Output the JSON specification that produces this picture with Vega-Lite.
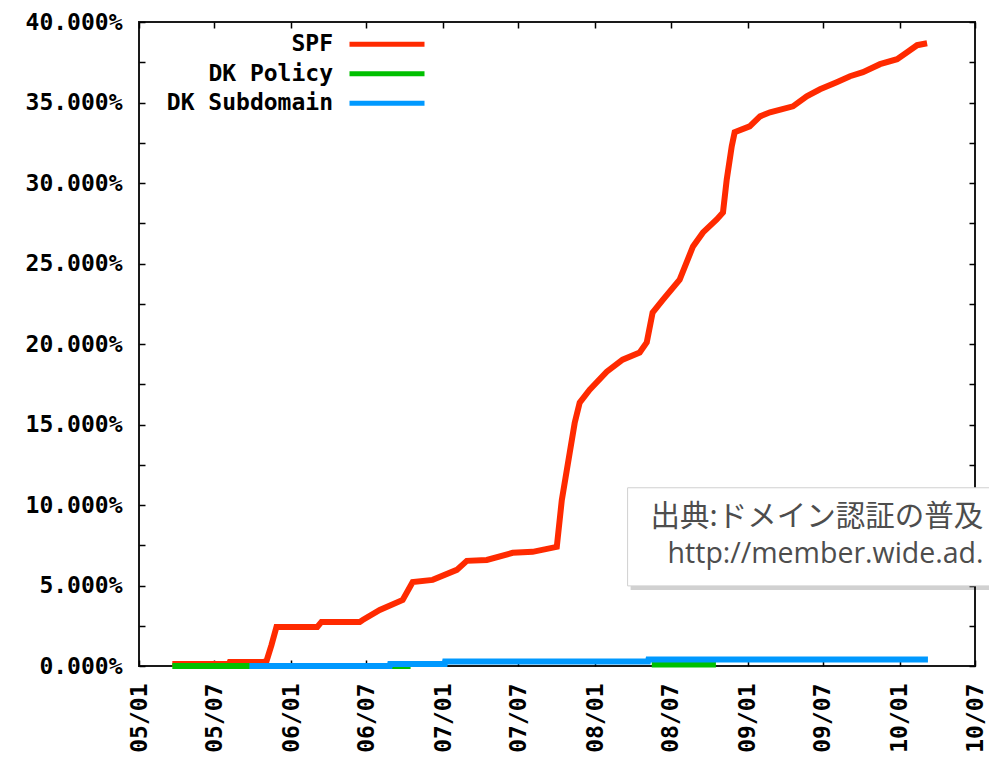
{
  "$schema": "https://vega.github.io/schema/vega-lite/v6.json",
  "width": 836,
  "height": 644,
  "autosize": {"type": "none"},
  "padding": {"left": 139, "top": 22, "right": 14, "bottom": 94},
  "background": "white",
  "config": {
    "view": {"stroke": "#1a1a1a", "strokeWidth": 2},
    "axis": {
      "grid": false,
      "domain": false,
      "tickColor": "#000",
      "tickWidth": 1.5,
      "tickSize": -6,
      "labelFont": "DejaVu Sans Mono",
      "labelFontWeight": "bold",
      "labelFontSize": 23,
      "labelColor": "#000",
      "labelPadding": 23,
      "title": null,
      "labelFlush": false,
      "labelOverlap": false,
      "labelBound": false
    }
  },
  "layer": [
    {
      "data": {
        "values": [
          {"date": "2005-03-22", "pct": 0.12, "series": "SPF", "seg": 1},
          {"date": "2005-08-05", "pct": 0.12, "series": "SPF", "seg": 1},
          {"date": "2005-08-07", "pct": 0.25, "series": "SPF", "seg": 1},
          {"date": "2005-10-27", "pct": 0.25, "series": "SPF", "seg": 1},
          {"date": "2005-11-03", "pct": 0.3, "series": "SPF", "seg": 1},
          {"date": "2005-11-15", "pct": 1.3, "series": "SPF", "seg": 1},
          {"date": "2005-11-27", "pct": 2.43, "series": "SPF", "seg": 1},
          {"date": "2006-03-05", "pct": 2.43, "series": "SPF", "seg": 1},
          {"date": "2006-03-15", "pct": 2.74, "series": "SPF", "seg": 1},
          {"date": "2006-06-15", "pct": 2.74, "series": "SPF", "seg": 1},
          {"date": "2006-06-22", "pct": 2.86, "series": "SPF", "seg": 1},
          {"date": "2006-08-02", "pct": 3.48, "series": "SPF", "seg": 1},
          {"date": "2006-09-26", "pct": 4.1, "series": "SPF", "seg": 1},
          {"date": "2006-10-20", "pct": 5.22, "series": "SPF", "seg": 1},
          {"date": "2006-12-07", "pct": 5.35, "series": "SPF", "seg": 1},
          {"date": "2007-02-03", "pct": 5.97, "series": "SPF", "seg": 1},
          {"date": "2007-02-27", "pct": 6.53, "series": "SPF", "seg": 1},
          {"date": "2007-04-16", "pct": 6.59, "series": "SPF", "seg": 1},
          {"date": "2007-06-17", "pct": 7.03, "series": "SPF", "seg": 1},
          {"date": "2007-08-04", "pct": 7.09, "series": "SPF", "seg": 1},
          {"date": "2007-10-01", "pct": 7.4, "series": "SPF", "seg": 1},
          {"date": "2007-10-13", "pct": 10.3, "series": "SPF", "seg": 1},
          {"date": "2007-11-01", "pct": 13.25, "series": "SPF", "seg": 1},
          {"date": "2007-11-13", "pct": 15.1, "series": "SPF", "seg": 1},
          {"date": "2007-11-25", "pct": 16.36, "series": "SPF", "seg": 1},
          {"date": "2007-12-19", "pct": 17.16, "series": "SPF", "seg": 1},
          {"date": "2008-01-29", "pct": 18.28, "series": "SPF", "seg": 1},
          {"date": "2008-03-07", "pct": 19.03, "series": "SPF", "seg": 1},
          {"date": "2008-04-17", "pct": 19.47, "series": "SPF", "seg": 1},
          {"date": "2008-05-04", "pct": 20.1, "series": "SPF", "seg": 1},
          {"date": "2008-05-18", "pct": 21.95, "series": "SPF", "seg": 1},
          {"date": "2008-06-12", "pct": 22.76, "series": "SPF", "seg": 1},
          {"date": "2008-07-22", "pct": 24.0, "series": "SPF", "seg": 1},
          {"date": "2008-08-23", "pct": 26.06, "series": "SPF", "seg": 1},
          {"date": "2008-09-16", "pct": 26.93, "series": "SPF", "seg": 1},
          {"date": "2008-10-19", "pct": 27.74, "series": "SPF", "seg": 1},
          {"date": "2008-11-03", "pct": 28.17, "series": "SPF", "seg": 1},
          {"date": "2008-11-12", "pct": 30.22, "series": "SPF", "seg": 1},
          {"date": "2008-11-24", "pct": 32.28, "series": "SPF", "seg": 1},
          {"date": "2008-12-01", "pct": 33.15, "series": "SPF", "seg": 1},
          {"date": "2009-01-06", "pct": 33.52, "series": "SPF", "seg": 1},
          {"date": "2009-01-31", "pct": 34.14, "series": "SPF", "seg": 1},
          {"date": "2009-02-24", "pct": 34.39, "series": "SPF", "seg": 1},
          {"date": "2009-04-20", "pct": 34.76, "series": "SPF", "seg": 1},
          {"date": "2009-05-23", "pct": 35.39, "series": "SPF", "seg": 1},
          {"date": "2009-06-24", "pct": 35.82, "series": "SPF", "seg": 1},
          {"date": "2009-08-03", "pct": 36.26, "series": "SPF", "seg": 1},
          {"date": "2009-09-04", "pct": 36.63, "series": "SPF", "seg": 1},
          {"date": "2009-10-05", "pct": 36.88, "series": "SPF", "seg": 1},
          {"date": "2009-11-15", "pct": 37.38, "series": "SPF", "seg": 1},
          {"date": "2009-12-26", "pct": 37.69, "series": "SPF", "seg": 1},
          {"date": "2010-01-19", "pct": 38.12, "series": "SPF", "seg": 1},
          {"date": "2010-02-12", "pct": 38.56, "series": "SPF", "seg": 1},
          {"date": "2010-03-08", "pct": 38.68, "series": "SPF", "seg": 1},
          {"date": "2005-03-22", "pct": 0, "series": "DK Policy", "seg": 1},
          {"date": "2006-10-15", "pct": 0, "series": "DK Policy", "seg": 1},
          {"date": "2008-05-16", "pct": 0.1, "series": "DK Policy", "seg": 2},
          {"date": "2008-10-17", "pct": 0.1, "series": "DK Policy", "seg": 2},
          {"date": "2005-09-23", "pct": 0, "series": "DK Subdomain", "seg": 1},
          {"date": "2006-08-26", "pct": 0, "series": "DK Subdomain", "seg": 1},
          {"date": "2006-08-27", "pct": 0.12, "series": "DK Subdomain", "seg": 1},
          {"date": "2007-01-05", "pct": 0.12, "series": "DK Subdomain", "seg": 1},
          {"date": "2007-01-06", "pct": 0.28, "series": "DK Subdomain", "seg": 1},
          {"date": "2008-05-07", "pct": 0.28, "series": "DK Subdomain", "seg": 1},
          {"date": "2008-05-08", "pct": 0.4, "series": "DK Subdomain", "seg": 1},
          {"date": "2010-03-10", "pct": 0.4, "series": "DK Subdomain", "seg": 1}
        ]
      },
      "mark": {"type": "line", "strokeWidth": 6, "strokeCap": "butt"},
      "encoding": {
        "x": {
          "field": "date",
          "type": "temporal",
          "scale": {
            "type": "utc",
            "nice": false,
            "domain": [
              {"year": 2005, "month": 1, "date": 1, "utc": true},
              {"year": 2010, "month": 7, "date": 1, "utc": true}
            ]
          },
          "axis": {
            "orient": "bottom",
            "format": "%y/%m",
            "labelAngle": 270,
            "labelAlign": "right",
            "labelBaseline": "middle",
            "values": [
              {"year": 2005, "month": 1, "date": 1, "utc": true},
              {"year": 2005, "month": 7, "date": 1, "utc": true},
              {"year": 2006, "month": 1, "date": 1, "utc": true},
              {"year": 2006, "month": 7, "date": 1, "utc": true},
              {"year": 2007, "month": 1, "date": 1, "utc": true},
              {"year": 2007, "month": 7, "date": 1, "utc": true},
              {"year": 2008, "month": 1, "date": 1, "utc": true},
              {"year": 2008, "month": 7, "date": 1, "utc": true},
              {"year": 2009, "month": 1, "date": 1, "utc": true},
              {"year": 2009, "month": 7, "date": 1, "utc": true},
              {"year": 2010, "month": 1, "date": 1, "utc": true},
              {"year": 2010, "month": 7, "date": 1, "utc": true}
            ]
          }
        },
        "y": {
          "field": "pct",
          "type": "quantitative",
          "scale": {"domain": [0, 40], "nice": false},
          "axis": {
            "orient": "left",
            "values": [0, 2.5, 5, 7.5, 10, 12.5, 15, 17.5, 20, 22.5, 25, 27.5, 30, 32.5, 35, 37.5, 40],
            "labelExpr": "datum.value % 5 === 0 ? format(datum.value, '.3f') + '%' : ''"
          }
        },
        "color": {
          "field": "series",
          "type": "nominal",
          "scale": {
            "domain": ["SPF", "DK Policy", "DK Subdomain"],
            "range": ["#ff2a00", "#00c000", "#0099ff"]
          },
          "legend": {
            "orient": "none",
            "legendX": 0,
            "legendY": 10.7,
            "title": null,
            "symbolType": "M-5,0H5",
            "symbolSize": 225,
            "symbolStrokeWidth": 5,
            "symbolOffset": 236.5,
            "labelAlign": "right",
            "labelOffset": -65.5,
            "labelFont": "DejaVu Sans Mono",
            "labelFontWeight": "bold",
            "labelFontSize": 23,
            "labelColor": "#000",
            "labelLimit": 400,
            "rowPadding": 5.5,
            "padding": 0
          }
        },
        "detail": {"field": "seg"}
      }
    },
    {
      "data": {"values": [{"x1": "2008-03-19", "x2": "2011-01-01", "y1": 11.07, "y2": 4.975}]},
      "mark": {"type": "rect", "fill": "#000", "opacity": 0.18, "xOffset": 3, "x2Offset": 3, "yOffset": 4, "y2Offset": 4},
      "encoding": {
        "x": {
          "field": "x1",
          "type": "temporal",
          "axis": {
            "orient": "top",
            "labels": false,
            "values": [
              {"year": 2005, "month": 1, "date": 1, "utc": true},
              {"year": 2005, "month": 7, "date": 1, "utc": true},
              {"year": 2006, "month": 1, "date": 1, "utc": true},
              {"year": 2006, "month": 7, "date": 1, "utc": true},
              {"year": 2007, "month": 1, "date": 1, "utc": true},
              {"year": 2007, "month": 7, "date": 1, "utc": true},
              {"year": 2008, "month": 1, "date": 1, "utc": true},
              {"year": 2008, "month": 7, "date": 1, "utc": true},
              {"year": 2009, "month": 1, "date": 1, "utc": true},
              {"year": 2009, "month": 7, "date": 1, "utc": true},
              {"year": 2010, "month": 1, "date": 1, "utc": true},
              {"year": 2010, "month": 7, "date": 1, "utc": true}
            ]
          }
        },
        "x2": {"field": "x2"},
        "y": {
          "field": "y1",
          "type": "quantitative",
          "axis": {
            "orient": "right",
            "labels": false,
            "values": [0, 2.5, 5, 7.5, 10, 12.5, 15, 17.5, 20, 22.5, 25, 27.5, 30, 32.5, 35, 37.5, 40]
          }
        },
        "y2": {"field": "y2"}
      }
    },
    {
      "data": {"values": [{"x1": "2008-03-19", "x2": "2011-01-01", "y1": 11.07, "y2": 4.975}]},
      "mark": {"type": "rect", "fill": "#ffffff", "stroke": "#d0d0d0", "strokeWidth": 1},
      "encoding": {
        "x": {"field": "x1", "type": "temporal", "axis": null},
        "x2": {"field": "x2"},
        "y": {"field": "y1", "type": "quantitative", "axis": null},
        "y2": {"field": "y2"}
      }
    },
    {
      "data": {"values": [{"d": "2008-05-13", "v": 9.24, "t": "出典:ドメイン認証の普及"}]},
      "mark": {"type": "text", "align": "left", "baseline": "middle", "font": "Noto Sans CJK JP", "fontSize": 29.5, "color": "#4d4d4d"},
      "encoding": {
        "x": {"field": "d", "type": "temporal", "axis": null},
        "y": {"field": "v", "type": "quantitative", "axis": null},
        "text": {"field": "t"}
      }
    },
    {
      "data": {"values": [{"d": "2008-06-23", "v": 6.38, "t": "http://member.wide.ad."}]},
      "mark": {"type": "text", "align": "left", "baseline": "alphabetic", "font": "Open Sans", "fontSize": 28.5, "color": "#4d4d4d"},
      "encoding": {
        "x": {"field": "d", "type": "temporal", "axis": null},
        "y": {"field": "v", "type": "quantitative", "axis": null},
        "text": {"field": "t"}
      }
    }
  ],
  "resolve": {"axis": {"x": "independent", "y": "independent"}}
}
